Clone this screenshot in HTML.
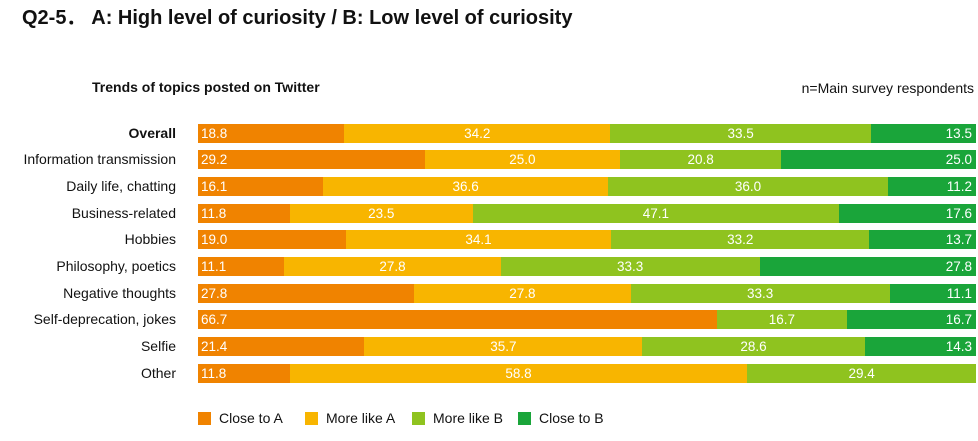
<!DOCTYPE html>
<html><head><style>
body{margin:0;width:978px;height:441px;background:#fff;font-family:"Liberation Sans",sans-serif;position:relative;overflow:hidden}
.t{position:absolute;left:22px;top:1px;font-size:20px;font-weight:bold;color:#111}
.st{position:absolute;left:92px;top:79px;font-size:14px;font-weight:bold;color:#111}
.n{position:absolute;right:4px;top:80px;font-size:14px;color:#111}
.row{position:absolute;left:0;width:978px;height:19px}
.lab{position:absolute;right:802px;top:0;font-size:14px;line-height:19px;color:#111;white-space:nowrap}
.bar{position:absolute;left:198px;width:778px;height:19px;display:flex}
.bar div{height:19px;line-height:19px;font-size:13.5px;color:#fff;text-align:center;overflow:visible;white-space:nowrap}
.bar div:first-child{text-align:left;padding-left:3px;box-sizing:border-box}
.bar div.last{text-align:right;padding-right:4px;box-sizing:border-box}
.a{background:#f08300}.b{background:#f8b500}.c{background:#8fc31f}.d{background:#1aa53a}
.leg{position:absolute;top:410px;font-size:14px;color:#111;line-height:16px}
.leg span{display:inline-block;width:13px;height:13px;vertical-align:-2px;margin-right:8px}
</style></head><body>
<div class="t">Q2-5． A: High level of curiosity / B: Low level of curiosity</div>
<div class="st">Trends of topics posted on Twitter</div>
<div class="n">n=Main survey respondents</div>

<div class="row" style="top:124px"><div class="lab" style="font-weight:bold">Overall</div><div class="bar"><div class="a" style="width:18.8%">18.8</div><div class="b" style="width:34.2%">34.2</div><div class="c" style="width:33.5%">33.5</div><div class="d last" style="width:13.5%">13.5</div></div></div>
<div class="row" style="top:150px"><div class="lab">Information transmission</div><div class="bar"><div class="a" style="width:29.2%">29.2</div><div class="b" style="width:25%">25.0</div><div class="c" style="width:20.8%">20.8</div><div class="d last" style="width:25%">25.0</div></div></div>
<div class="row" style="top:177px"><div class="lab">Daily life, chatting</div><div class="bar"><div class="a" style="width:16.1%">16.1</div><div class="b" style="width:36.6%">36.6</div><div class="c" style="width:36.0%">36.0</div><div class="d last" style="width:11.3%">11.2</div></div></div>
<div class="row" style="top:204px"><div class="lab">Business-related</div><div class="bar"><div class="a" style="width:11.8%">11.8</div><div class="b" style="width:23.5%">23.5</div><div class="c" style="width:47.1%">47.1</div><div class="d last" style="width:17.6%">17.6</div></div></div>
<div class="row" style="top:230px"><div class="lab">Hobbies</div><div class="bar"><div class="a" style="width:19.0%">19.0</div><div class="b" style="width:34.1%">34.1</div><div class="c" style="width:33.2%">33.2</div><div class="d last" style="width:13.7%">13.7</div></div></div>
<div class="row" style="top:257px"><div class="lab">Philosophy, poetics</div><div class="bar"><div class="a" style="width:11.1%">11.1</div><div class="b" style="width:27.8%">27.8</div><div class="c" style="width:33.3%">33.3</div><div class="d last" style="width:27.8%">27.8</div></div></div>
<div class="row" style="top:284px"><div class="lab">Negative thoughts</div><div class="bar"><div class="a" style="width:27.8%">27.8</div><div class="b" style="width:27.8%">27.8</div><div class="c" style="width:33.3%">33.3</div><div class="d last" style="width:11.1%">11.1</div></div></div>
<div class="row" style="top:310px"><div class="lab">Self-deprecation, jokes</div><div class="bar"><div class="a" style="width:66.7%">66.7</div><div class="c" style="width:16.7%">16.7</div><div class="d last" style="width:16.6%">16.7</div></div></div>
<div class="row" style="top:337px"><div class="lab">Selfie</div><div class="bar"><div class="a" style="width:21.4%">21.4</div><div class="b" style="width:35.7%">35.7</div><div class="c" style="width:28.6%">28.6</div><div class="d last" style="width:14.3%">14.3</div></div></div>
<div class="row" style="top:364px"><div class="lab">Other</div><div class="bar"><div class="a" style="width:11.8%">11.8</div><div class="b" style="width:58.8%">58.8</div><div class="c" style="width:29.4%">29.4</div></div></div>

<div class="leg" style="left:198px"><span class="a"></span>Close to A</div>
<div class="leg" style="left:305px"><span class="b"></span>More like A</div>
<div class="leg" style="left:412px"><span class="c"></span>More like B</div>
<div class="leg" style="left:518px"><span class="d"></span>Close to B</div>
</body></html>
